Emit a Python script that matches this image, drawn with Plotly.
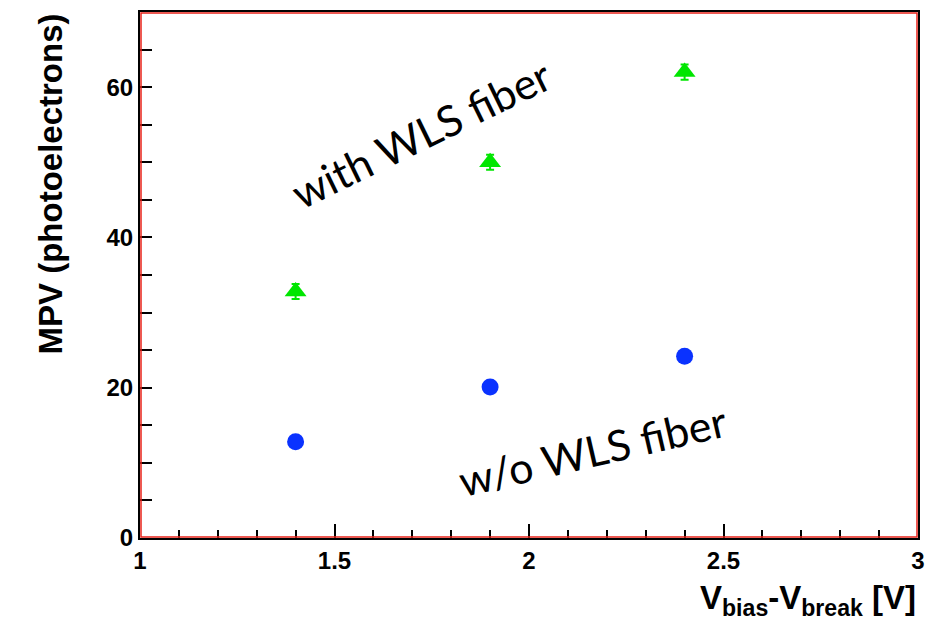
import plotly.graph_objects as go

# data
x_vals = [1.4, 1.9, 2.4]
with_wls = [32.8, 50.0, 62.0]
with_wls_err = [1.0, 1.0, 1.0]
without_wls = [12.8, 20.1, 24.2]
without_wls_err = [0.5, 0.5, 0.5]

W, H = 936, 623
ML, MR, MT, MB = 140, 18, 10, 85
PW, PH = W - ML - MR, H - MT - MB

fig = go.Figure()
fig.add_trace(go.Scatter(
    x=x_vals, y=with_wls, mode="markers",
    marker=dict(symbol="triangle-up", size=19, color="#00e600"),
    error_y=dict(type="data", array=with_wls_err, color="#00e600", thickness=2, width=4),
    showlegend=False))
fig.add_trace(go.Scatter(
    x=x_vals, y=without_wls, mode="markers",
    marker=dict(symbol="circle", size=17, color="#0a32ff"),
    error_y=dict(type="data", array=without_wls_err, color="#0a32ff", thickness=2, width=4),
    showlegend=False))

tickfont = dict(family="Liberation Sans", size=24, color="black", weight="bold")
fig.update_xaxes(range=[1, 3], dtick=0.5, tick0=1, ticks="inside", ticklen=14, tickwidth=1.5,
                 tickcolor="black", showline=True, linecolor="black", linewidth=2, mirror=True,
                 showgrid=False, zeroline=False, tickfont=tickfont,
                 minor=dict(dtick=0.1, ticks="inside", ticklen=8, tickcolor="black", showgrid=False))
fig.update_yaxes(range=[0, 70], dtick=20, tick0=0, ticks="inside", ticklen=12, tickwidth=1.5,
                 tickcolor="black", showline=True, linecolor="black", linewidth=2, mirror=True,
                 showgrid=False, zeroline=False, tickfont=tickfont,
                 minor=dict(dtick=5, ticks="inside", ticklen=12, tickcolor="black", showgrid=False))

dx, dy = 1.0 / PW, 1.0 / PH
fig.add_shape(type="rect", xref="paper", yref="paper", x0=dx, x1=1 - dx, y0=dy, y1=1 - dy,
              line=dict(color="#e8231a", width=1.5), layer="above")

fig.add_annotation(xref="paper", yref="paper", x=(50 - ML) / PW, y=1.0,
                   xanchor="center", yanchor="top", textangle=-90, showarrow=False,
                   text="<b>MPV (photoelectrons)</b>",
                   font=dict(family="Liberation Sans", size=33, color="black"))
fig.add_annotation(xref="paper", yref="paper", x=1.0, y=(H - MB - 600) / PH,
                   xanchor="right", yanchor="middle", showarrow=False,
                   text="<b>V<sub>bias</sub>-V<sub>break</sub> [V]</b>",
                   font=dict(family="Liberation Sans", size=33, color="black"))

fig.add_annotation(xref="paper", yref="paper", x=(421 - ML) / PW, y=(H - MB - 132) / PH,
                   xanchor="center", yanchor="middle", textangle=-26, showarrow=False,
                   text="with WLS fiber", font=dict(family="Lato", size=43, color="black"))
fig.add_annotation(xref="paper", yref="paper", x=(592 - ML) / PW, y=(H - MB - 450) / PH,
                   xanchor="center", yanchor="middle", textangle=-13, showarrow=False,
                   text="w/o WLS fiber", font=dict(family="Lato", size=43, color="black"))

fig.update_layout(width=W, height=H, margin=dict(l=ML, r=MR, t=MT, b=MB),
                  plot_bgcolor="white", paper_bgcolor="white")

fig.write_html("out.html")
